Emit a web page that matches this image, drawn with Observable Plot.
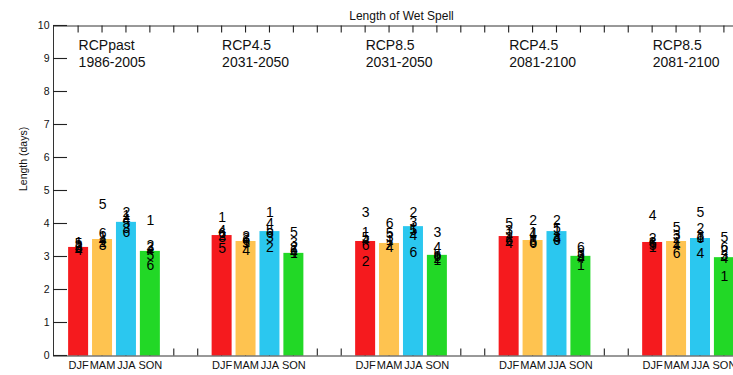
<!DOCTYPE html>
<html><head><meta charset="utf-8">
<script src="https://cdn.jsdelivr.net/npm/d3@7"></script>
<script src="https://cdn.jsdelivr.net/npm/@observablehq/plot@0.6"></script>
<style>
body{margin:0;background:#fff;}
#chart svg{display:block;font-family:"Liberation Sans",Arial,Helvetica,sans-serif;}
</style>
</head><body><div id="chart"></div>
<script>
const title = "Length of Wet Spell";
const yLabel = "Length (days)";
const scenarios = ["RCPpast", "RCP4.5", "RCP8.5", "RCP4.5", "RCP8.5"];
const periods = ["1986-2005", "2031-2050", "2031-2050", "2081-2100", "2081-2100"];
const seasons = ["DJF", "MAM", "JJA", "SON"];
const seasonColors = ["#f51a1e", "#fec350", "#2bc7ef", "#22d826"];
// ensemble mean per scenario/period
const djfMean = [3.29, 3.65, 3.47, 3.62, 3.44];
const mamMean = [3.53, 3.47, 3.41, 3.50, 3.47];
const jjaMean = [4.05, 3.77, 3.92, 3.77, 3.56];
const sonMean = [3.17, 3.11, 3.05, 3.02, 2.98];
// individual models 1..6
const modelIds = [1, 2, 3, 4, 5, 6];
const djfModels = [
  [3.45, 3.35, 3.30, 3.20, 3.40, 3.25],
  [4.20, 3.65, 3.60, 3.80, 3.25, 3.70],
  [3.74, 2.85, 4.35, 3.50, 3.60, 3.35],
  [3.70, 3.60, 3.80, 3.40, 4.00, 3.50],
  [3.30, 3.55, 3.45, 4.25, 3.35, 3.40]
];
const mamModels = [
  [3.60, 3.45, 3.35, 3.50, 4.60, 3.70],
  [3.45, 3.63, 3.55, 3.20, 3.40, 3.50],
  [3.50, 3.35, 3.60, 3.30, 3.72, 4.00],
  [3.75, 4.10, 3.50, 3.70, 3.45, 3.40],
  [3.45, 3.55, 3.65, 3.35, 3.88, 3.10]
];
const jjaModels = [
  [4.25, 4.35, 3.85, 4.15, 4.00, 3.75],
  [4.35, 3.30, 3.60, 4.00, 3.80, 3.70],
  [3.85, 4.35, 4.05, 3.65, 3.80, 3.15],
  [3.80, 4.10, 3.60, 3.55, 3.85, 3.50],
  [3.60, 3.85, 3.65, 3.10, 4.35, 3.55]
];
const sonModels = [
  [4.10, 3.35, 3.30, 3.20, 3.05, 2.75],
  [3.10, 3.30, 3.43, 3.15, 3.73, 3.20],
  [2.90, 2.95, 3.75, 3.30, 3.08, 3.00],
  [2.75, 3.05, 3.10, 2.95, 3.00, 3.30],
  [2.40, 3.20, 3.05, 2.95, 3.60, 3.30]
];
const yTicks = [0, 1, 2, 3, 4, 5, 6, 7, 8, 9, 10];

// ---- build tables ----
const slotsPerGroup = 6;
const means = [djfMean, mamMean, jjaMean, sonMean];
const models = [djfModels, mamModels, jjaModels, sonModels];
const bars = [];
const points = [];
scenarios.forEach((sc, g) => {
  seasons.forEach((s, k) => {
    const slot = g * slotsPerGroup + k;
    bars.push({slot, season: s, value: means[k][g], color: seasonColors[k]});
    modelIds.forEach((m, i) => points.push({slot, id: m, value: models[k][g][i]}));
  });
});
const groupLabels = scenarios.map((sc, g) => ({slot: g * slotsPerGroup, text: sc + "\n" + periods[g]}));
const slots = d3.range(0, scenarios.length * slotsPerGroup - 2);
const fullRange = [-1, scenarios.length * slotsPerGroup - 2];

// layout
const W = 733, H = 375, mL = 53, mR = 0, mT = 25.5, mB = 19.5;
const xDomain = [-1.05, 27.38];
const yDomain = [0, 10];
const half = 0.418;
const pxPerX = (W - mL - mR) / (xDomain[1] - xDomain[0]);
const pxPerY = (H - mT - mB) / (yDomain[1] - yDomain[0]);
const yTickLen = 14 / pxPerX;   // 14 px
const xTickLen = 7 / pxPerY;    // 7 px
const xLineW = 1.1 / pxPerX;    // ~1 px
const yLineW = 1.1 / pxPerY;    // ~1 px

const chart = Plot.plot({
  width: W,
  height: H,
  marginLeft: mL,
  marginRight: mR,
  marginTop: mT,
  marginBottom: mB,
  x: {domain: xDomain, axis: null},
  y: {domain: yDomain, axis: null},
  color: {type: "identity"},
  style: {fontFamily: "Liberation Sans, Arial, sans-serif", color: "#111", background: "#fff"},
  marks: [
    // bottom ticks (pointing up; hidden behind bars where bars exist)
    Plot.rect(slots, {x1: d => d - xLineW / 2, x2: d => d + xLineW / 2, y1: yDomain[0], y2: yDomain[0] + xTickLen, fill: "#222"}),
    Plot.rectY(bars, {x1: d => d.slot - half, x2: d => d.slot + half, y1: 0, y2: "value", fill: "color"}),
    Plot.text(points, {x: "slot", y: "value", text: "id", fontSize: 14, fill: "#000", lineAnchor: "middle"}),
    Plot.ruleY([yDomain[0], yDomain[1]], {stroke: "#333"}),
    Plot.ruleX([xDomain[0]], {stroke: "#333"}),
    // top ticks (pointing down)
    Plot.rect(slots, {x1: d => d - xLineW / 2, x2: d => d + xLineW / 2, y1: yDomain[1] - xTickLen, y2: yDomain[1], fill: "#222"}),
    // left ticks (pointing right)
    Plot.rect(yTicks, {x1: xDomain[0], x2: xDomain[0] + yTickLen, y1: d => d - yLineW / 2, y2: d => d + yLineW / 2, fill: "#222"}),
    Plot.text(yTicks, {x: xDomain[0], y: d => d, text: d => String(d), dx: -4, textAnchor: "end", fontSize: 10.5, fill: "#111", lineAnchor: "middle"}),
    Plot.text(bars, {x: "slot", y: 0, text: "season", dy: 9.5, fontSize: 11, lineAnchor: "middle", fill: "#111"}),
    Plot.text(groupLabels, {x: "slot", frameAnchor: "top", dy: 12, text: "text", textAnchor: "start", lineAnchor: "top", fontSize: 14, lineHeight: 1.2, fill: "#111"}),
    Plot.text([title], {x: (fullRange[0] + fullRange[1]) / 2, frameAnchor: "top", dy: -10, text: d => d, fontSize: 12, lineAnchor: "middle", fill: "#111"}),
    Plot.text([yLabel], {frameAnchor: "left", dx: -30, rotate: -90, text: d => d, fontSize: 10.5, fill: "#111", lineAnchor: "middle"})
  ]
});
document.getElementById("chart").append(chart);
</script>
</body></html>
